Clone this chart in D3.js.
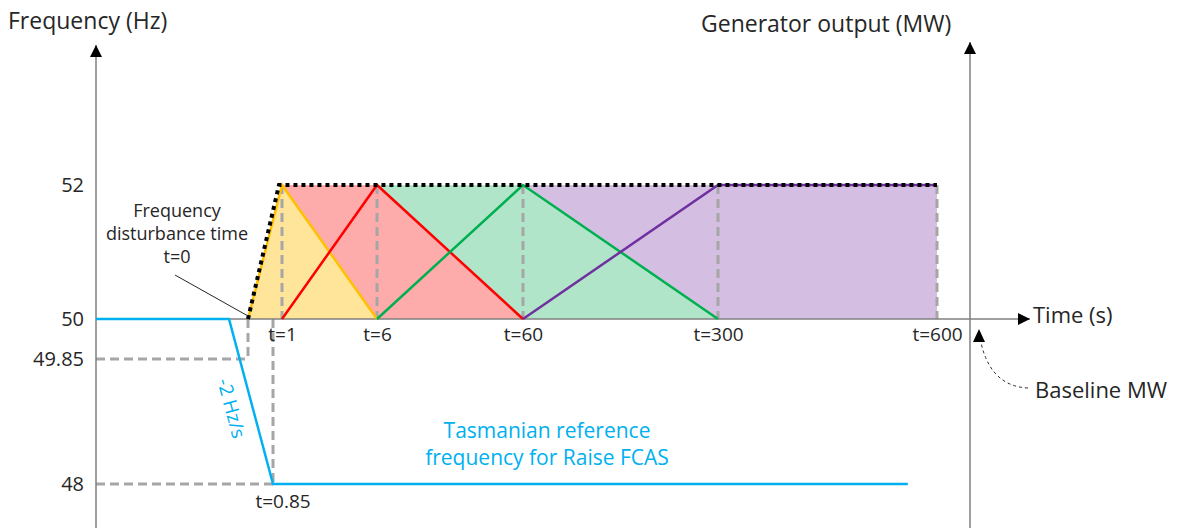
<!DOCTYPE html>
<html>
<head>
<meta charset="utf-8">
<script src="https://cdn.jsdelivr.net/npm/d3@7"></script>
<style>
  body { margin: 0; background: #fff; }
  text { font-family: "Open Sans", sans-serif; fill: #262626; }
</style>
</head>
<body>
<div id="chart-area"></div>
<script>

// Time breakpoints (s). The diagram is not to scale, each point has its own slot
var timeDomain = [-2, 0, 0.85, 1, 6, 60, 300, 600, 650];
var timeTicks = [1, 6, 60, 300, 600];

// Frequency tick labels (Hz)
var freqTicks = [48, 49.85, 50, 52];

// Tasmanian reference frequency trace
var refTime = [-2, -0.25, 0.85, 560];
var refFreq = [50, 50, 48, 48];

// FCAS services: ramp start, full output, end of service, level at end (0..1)
var services = ["Fast", "Slow", "Delayed", "Regulation"];
var rampStart = [0, 1, 6, 60];
var fillStart = [1, 1, 6, 60];
var rampFull = [1, 6, 60, 300];
var rampEnd = [6, 60, 300, 600];
var endLevel = [0, 0, 0, 1];
var lineColors = ["#ffc000", "#ff0000", "#00b050", "#7030a0"];
var fillColors = ["#fee599", "#feabab", "#b1e5c9", "#d4bfe2"];

// Total response envelope
var envTime = [0, 0.95, 600];
var envLevel = [0, 1, 1];

var width = 1187, height = 528;

var svg = d3.select("#chart-area").append("svg")
    .attr("width", width)
    .attr("height", height);

// piecewise scales
var x = d3.scaleLinear()
    .domain(timeDomain)
    .range([96, 248, 273, 282, 377, 523, 718, 937, 970]);

var y = d3.scaleLinear()
    .domain([48, 49.85, 50, 52])
    .range([484, 359, 319, 185]);

// generator output level (0 = baseline, 1 = full raise)
var mw = d3.scaleLinear().domain([0, 1]).range([y(50), y(52)]);

var axisX0 = x(-2), axisX1 = x(650), axisY = y(50);

var defs = svg.append("defs");
defs.append("marker")
    .attr("id", "arrow")
    .attr("viewBox", "0 0 12 12")
    .attr("refX", 12).attr("refY", 6)
    .attr("markerWidth", 12).attr("markerHeight", 12)
    .attr("markerUnits", "userSpaceOnUse")
    .attr("orient", "auto")
    .append("path")
    .attr("d", "M0,0 L12,6 L0,12 Z")
    .attr("fill", "#000");

// Fills, drawn last service first so earlier ones sit on top
var fillData = services.map(function (s, i) {
    return [
        [rampStart[i], 0],
        [fillStart[i], 1],
        [rampFull[i], 1],
        [rampEnd[i], endLevel[i]],
        [rampEnd[i], 0]
    ];
});

var area = d3.line()
    .x(function (d) { return x(d[0]); })
    .y(function (d) { return mw(d[1]); });

svg.selectAll(".fill")
    .data(fillData.slice().reverse())
    .enter().append("path")
    .attr("class", "fill")
    .attr("d", function (d) { return area(d) + "Z"; })
    .attr("fill", function (d, i) { return fillColors[services.length - 1 - i]; });

// grey dashed guides
var guide = svg.append("g")
    .attr("stroke", "#a6a6a6")
    .attr("stroke-width", 3)
    .attr("stroke-dasharray", "9,5")
    .attr("fill", "none");

guide.selectAll(".vguide")
    .data(timeTicks)
    .enter().append("line")
    .attr("x1", function (d) { return x(d); })
    .attr("x2", function (d) { return x(d); })
    .attr("y1", mw(1))
    .attr("y2", mw(0));

// frequency guides: t=0 at 49.85 Hz and t=0.85 at 48 Hz
var freqGuides = [[0, 49.85], [0.85, 48]];
freqGuides.forEach(function (g) {
    guide.append("line")
        .attr("x1", x(g[0])).attr("x2", x(g[0]))
        .attr("y1", y(50)).attr("y2", y(g[1]));
    guide.append("line")
        .attr("x1", x(-2)).attr("x2", x(g[0]))
        .attr("y1", y(g[1])).attr("y2", y(g[1]));
});

// axes
var axisColor = "#7f7f7f";
svg.append("line")
    .attr("x1", axisX0).attr("x2", axisX0)
    .attr("y1", height).attr("y2", 45)
    .attr("stroke", axisColor).attr("stroke-width", 1.5)
    .attr("marker-end", "url(#arrow)");
svg.append("line")
    .attr("x1", axisX1).attr("x2", axisX1)
    .attr("y1", height).attr("y2", 42)
    .attr("stroke", axisColor).attr("stroke-width", 1.5)
    .attr("marker-end", "url(#arrow)");
svg.append("line")
    .attr("x1", axisX0).attr("x2", 1030)
    .attr("y1", axisY).attr("y2", axisY)
    .attr("stroke", axisColor).attr("stroke-width", 1.5)
    .attr("marker-end", "url(#arrow)");

// service lines
var line = d3.line()
    .x(function (d) { return x(d[0]); })
    .y(function (d) { return mw(d[1]); });

svg.selectAll(".service")
    .data(services)
    .enter().append("path")
    .attr("class", "service")
    .attr("d", function (d, i) {
        return line([[rampStart[i], 0], [rampFull[i], 1], [rampEnd[i], endLevel[i]]]);
    })
    .attr("fill", "none")
    .attr("stroke", function (d, i) { return lineColors[i]; })
    .attr("stroke-width", 2.5);

// total envelope
svg.append("path")
    .attr("d", line(envTime.map(function (t, i) { return [t, envLevel[i]]; })))
    .attr("fill", "none")
    .attr("stroke", "#000")
    .attr("stroke-width", 4)
    .attr("stroke-dasharray", "4,4");

// reference frequency
var freqLine = d3.line()
    .x(function (d) { return x(d[0]); })
    .y(function (d) { return y(d[1]); });

svg.append("path")
    .attr("d", freqLine(refTime.map(function (t, i) { return [t, refFreq[i]]; })))
    .attr("fill", "none")
    .attr("stroke", "#00b0f0")
    .attr("stroke-width", 2.5);

// frequency axis labels
var yAxis = d3.axisLeft(y)
    .tickValues(freqTicks)
    .tickSize(0)
    .tickPadding(12)
    .tickFormat(function (d) { return d; });

svg.append("g")
    .attr("class", "y axis")
    .attr("transform", "translate(" + axisX0 + ",0)")
    .call(yAxis)
    .call(function (g) { g.select(".domain").remove(); })
    .selectAll("text")
    .style("font-family", "Open Sans")
    .style("font-size", "20px")
    .attr("fill", "#262626");

// time axis labels
var xAxis = d3.axisBottom(x)
    .tickValues(timeTicks)
    .tickSize(0)
    .tickPadding(9)
    .tickFormat(function (d) { return "t=" + d; });

svg.append("g")
    .attr("class", "x axis")
    .attr("transform", "translate(0," + axisY + ")")
    .call(xAxis)
    .call(function (g) { g.select(".domain").remove(); })
    .selectAll("text")
    .style("font-family", "Open Sans")
    .style("font-size", "19px")
    .attr("fill", "#262626");

svg.append("text")
    .attr("x", x(0.85) + 10).attr("y", 508)
    .attr("text-anchor", "middle")
    .style("font-size", "19px")
    .text("t=0.85");

// titles
svg.append("text")
    .attr("x", 8).attr("y", 29)
    .style("font-size", "23px")
    .text("Frequency (Hz)");
svg.append("text")
    .attr("x", 701).attr("y", 32)
    .style("font-size", "23px")
    .text("Generator output (MW)");
svg.append("text")
    .attr("x", 1033).attr("y", 323)
    .style("font-size", "22px")
    .text("Time (s)");

// disturbance note
var note = svg.append("text")
    .attr("text-anchor", "middle")
    .style("font-size", "18px");
["Frequency", "disturbance time", "t=0"].forEach(function (s, i) {
    note.append("tspan")
        .attr("x", 177).attr("y", 217 + i * 23)
        .text(s);
});
svg.append("line")
    .attr("x1", 175).attr("y1", 275)
    .attr("x2", x(0)).attr("y2", axisY - 3)
    .attr("stroke", "#262626").attr("stroke-width", 1);

// rate of change label
svg.append("text")
    .attr("transform", "translate(225,410) rotate(75)")
    .attr("text-anchor", "middle")
    .style("font-size", "19px")
    .style("fill", "#00b0f0")
    .text("-2 Hz/s");

// reference label
var ref = svg.append("text")
    .attr("text-anchor", "middle")
    .style("font-size", "21px")
    .style("fill", "#00b0f0");
["Tasmanian reference", "frequency for Raise FCAS"].forEach(function (s, i) {
    ref.append("tspan")
        .attr("x", 547).attr("y", 438 + i * 27)
        .text(s);
});

// baseline MW callout
svg.append("path")
    .attr("d", "M1028,388 Q986,386 " + (axisX1 + 9) + "," + (axisY + 12))
    .attr("fill", "none")
    .attr("stroke", "#262626")
    .attr("stroke-width", 1)
    .attr("stroke-dasharray", "3,3");
svg.append("path")
    .attr("d", "M" + (axisX1 + 9) + "," + (axisY + 10) + " l-6,13 l12,0 Z")
    .attr("fill", "#000");
svg.append("text")
    .attr("x", 1035).attr("y", 398)
    .style("font-size", "22px")
    .text("Baseline MW");

</script>
</body>
</html>
